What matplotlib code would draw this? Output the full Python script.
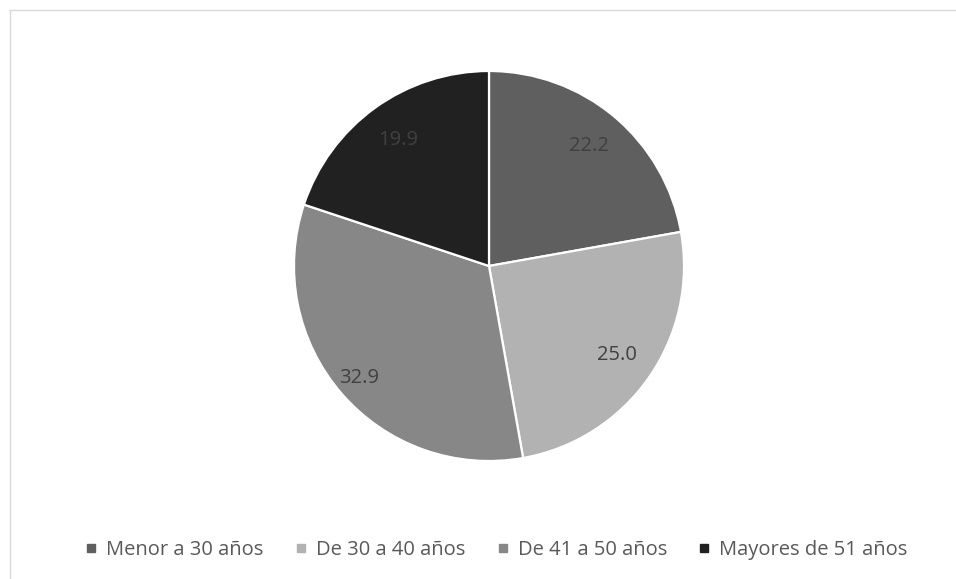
import matplotlib.pyplot as plt
from matplotlib.lines import Line2D

# Age groups and their share (%)
categories = ["Menor a 30 años", "De 30 a 40 años", "De 41 a 50 años", "Mayores de 51 años"]
values = [22.2, 25.0, 32.9, 19.9]
colors = ["#5f5f5f", "#b2b2b2", "#878787", "#212121"]

plt.rcParams["font.family"] = ["Open Sans", "DejaVu Sans"]

fig = plt.figure(figsize=(9.56, 5.79), dpi=100)

# light frame on top and left, like the source export
fig.add_artist(Line2D([9.5 / 956, 1.0], [1 - 10 / 579, 1 - 10 / 579],
                      color="#d9d9d9", lw=1.0, transform=fig.transFigure))
fig.add_artist(Line2D([9.5 / 956, 9.5 / 956], [0.0, 1 - 10 / 579],
                      color="#d9d9d9", lw=1.0, transform=fig.transFigure))

r = 195
cx, cy = 489, 266
ax = fig.add_axes([(cx - r) / 956, (579 - cy - r) / 579, 2 * r / 956, 2 * r / 579])

wedges, texts, autotexts = ax.pie(
    values,
    colors=colors,
    startangle=90,
    counterclock=False,
    autopct=lambda p: f"{p:.1f}",
    pctdistance=0.8,
    wedgeprops=dict(edgecolor="white", linewidth=1.6),
    textprops=dict(color="#404040", fontsize=14.5),
)
# the big slice label sits a bit further out in the original
x, y = autotexts[2].get_position()
autotexts[2].set_position((x * 1.1, y * 1.1))

ax.set_xlim(-1, 1)
ax.set_ylim(-1, 1)
ax.axis("off")

handles = [Line2D([], [], marker="s", linestyle="", markersize=6,
                  markerfacecolor=c, markeredgecolor=c) for c in colors]
fig.legend(handles, categories, loc="center", bbox_to_anchor=(497 / 956, 1 - 550 / 579),
           ncol=4, frameon=False, fontsize=14.5, labelcolor="#595959",
           handlelength=0.5, handletextpad=0.5, columnspacing=1.6)

fig.savefig("out.png", dpi=100, facecolor="white")
